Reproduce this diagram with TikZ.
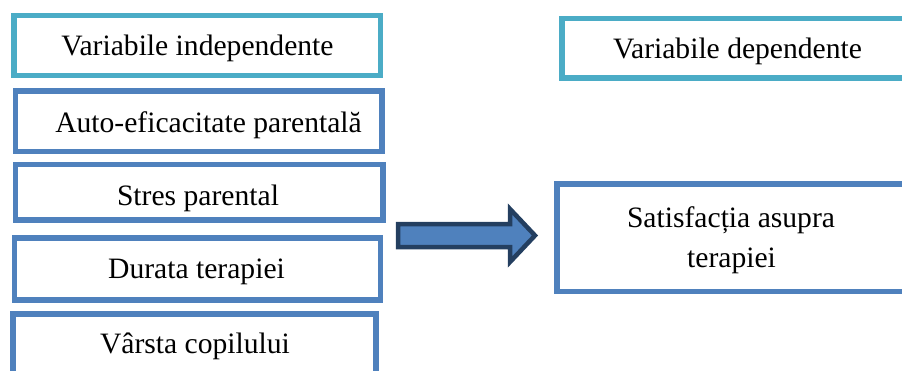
\documentclass[tikz,border=0pt]{standalone}
\usepackage{fontspec}
\setmainfont{Liberation Serif}
\definecolor{headteal}{HTML}{4BACC6}
\definecolor{itemblue}{HTML}{4F81BD}
\definecolor{arrowline}{HTML}{243F60}
\tikzset{
  frame/.style={draw, line width=5.5pt, fill=white},
  headframe/.style={frame, draw=headteal},
  itemframe/.style={frame, draw=itemblue},
  label/.style={anchor=base, inner sep=0pt, font=\fontsize{29.6}{40}\selectfont},
  blockarrow/.style={draw=arrowline, fill=itemblue, line width=4.5pt, line join=miter}
}
\begin{document}
\begin{tikzpicture}[x=1pt,y=-1pt]
  \useasboundingbox (0,0) rectangle (902,370);
  \clip (0,0) rectangle (902,370);

  % left column: independent variables
  \draw[headframe] (14,15.5) rectangle (380.5,75.5);
  \node[label] (indep) at (197.5,55) {Variabile independente};

  \draw[itemframe] (15.5,91) rectangle (382,151.5);
  \node[label] (autoef) at (208.5,132) {Auto-eficacitate parentală};

  \draw[itemframe] (15.5,164.5) rectangle (383,220);
  \node[label] (stres) at (198,205) {Stres parental};

  \draw[itemframe] (14.5,238) rectangle (380.5,300);
  \node[label] (durata) at (196.5,278) {Durata terapiei};

  \draw[itemframe] (13,314) rectangle (376,400);
  \node[label] (varsta) at (195,353) {Vârsta copilului};

  % right column: dependent variable
  \draw[headframe] (562,18.5) rectangle (914,78);
  \node[label] (dep) at (737.5,58) {Variabile dependente};

  \draw[itemframe] (557,184) rectangle (906,291.5);
  \node[label] (satisf) at (731,227) {Satisfacția asupra};
  \node[label] (terap) at (731.5,267) {terapiei};

  % block arrow from the predictors to the outcome
  \coordinate (tail) at (398,235.5);
  \coordinate (tip) at (535,235.5);
  \draw[blockarrow]
    (tail) ++(0,-11.5) -- ++(112,0) -- ++(0,-15) -- (tip)
    -- ++(-25,26.5) -- ++(0,-15) -- ++(-112,0) -- cycle;
\end{tikzpicture}
\end{document}
